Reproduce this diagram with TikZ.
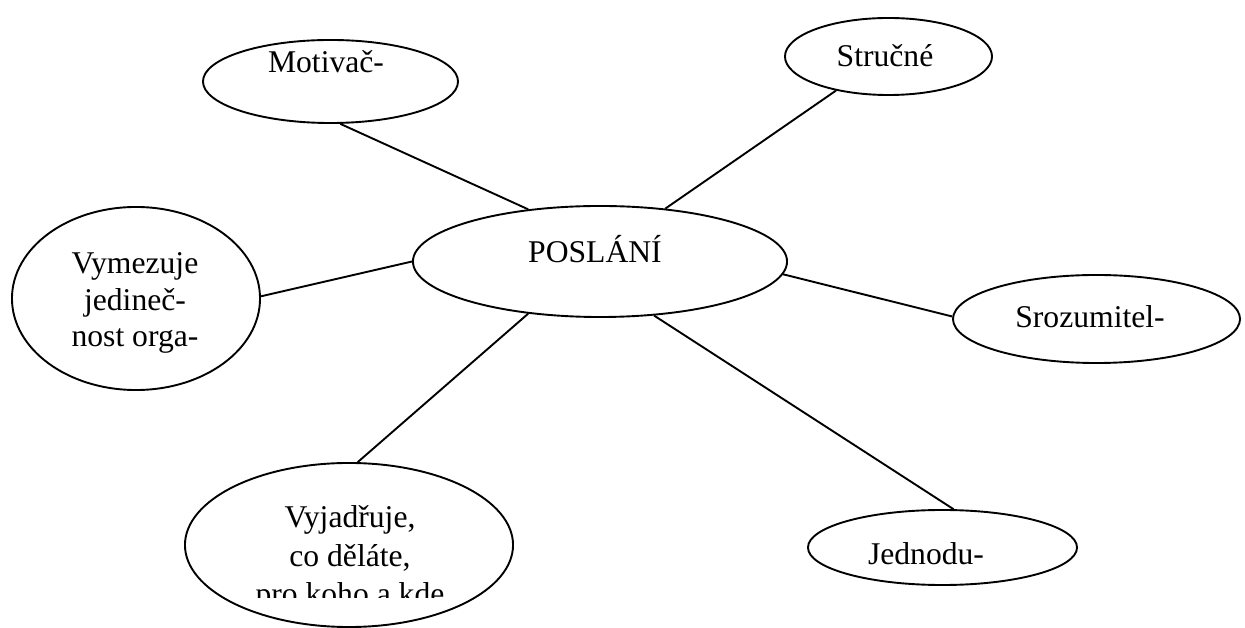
\documentclass[tikz,border=0pt]{standalone}
\usepackage{fontspec}
\setmainfont{Liberation Serif}
\usetikzlibrary{positioning,shapes.geometric}

\tikzset{
  blob/.style={draw, ellipse, inner sep=0pt},
  txt/.style={inner sep=0pt, anchor=base, align=center, font=\fontsize{22.5}{27}\selectfont}
}

\begin{document}
\begin{tikzpicture}[x=0.025cm, y=-0.025cm, line width=1.35pt]
\useasboundingbox (0,0) rectangle (1245,628);

\node(Root) [blob, minimum width=9.35cm,  minimum height=2.775cm] at (600,261.5)   {};
\node(Mot)  [blob, minimum width=6.375cm, minimum height=2.075cm] at (330.5,81.5)  {};
\node(Str)  [blob, minimum width=5.175cm, minimum height=1.925cm] at (888.5,56.5)  {};
\node(Vym)  [blob, minimum width=6.2cm,   minimum height=4.575cm] at (136,298.5)   {};
\node(Sro)  [blob, minimum width=7.175cm, minimum height=2.2cm]   at (1096.5,319)  {};
\node(Vyj)  [blob, minimum width=8.2cm,   minimum height=4.1cm]   at (349,545)     {};
\node(Jed)  [blob, minimum width=6.725cm, minimum height=1.875cm] at (942.5,547.5) {};

\node(RootT) [txt] at (595,263)  {POSLÁNÍ};
\node(MotT)  [txt] at (326,73)   {Motivač-};
\node(StrT)  [txt] at (885,67)   {Stručné};
\node(VymT)  [txt, font=\fontsize{22.5}{26.3}\selectfont] at (135,347) {Vymezuje\\jedineč-\\nost orga-};
\node(SroT)  [txt] at (1090,328) {Srozumitel-};
\node(JedT)  [txt] at (926,565)  {Jednodu-};
\begin{scope}
\clip (185,463) rectangle (513,598);
\node(VyjT)  [txt, font=\fontsize{22.5}{27.7}\selectfont] at (350,605) {Vyjadřuje,\\co děláte,\\pro koho a kde};
\end{scope}

\foreach \a/\b in {Mot.283/Root.144, Str.213/Root.39, Vym.1/Root.180, Sro.179/Root.356, Vyj.84/Root.216, Jed.74/Root.315} {
\draw (\a)--(\b);
}
\end{tikzpicture}
\end{document}
